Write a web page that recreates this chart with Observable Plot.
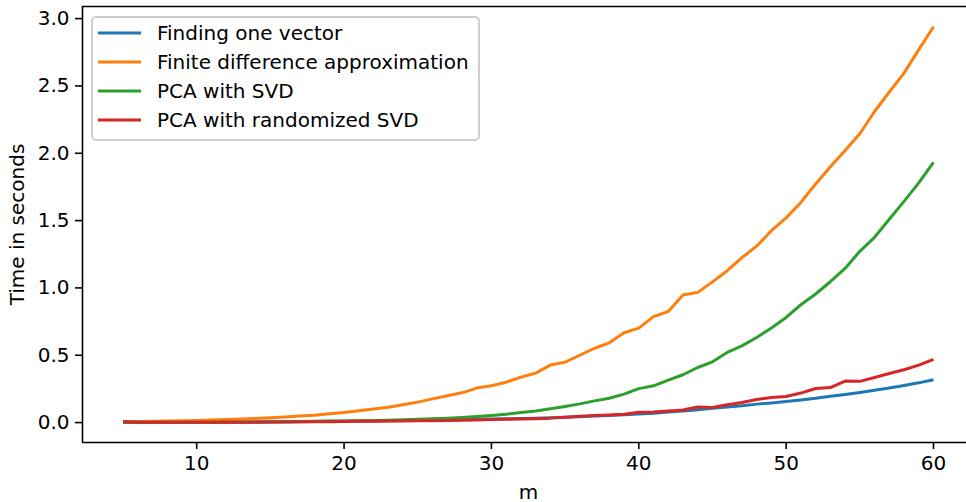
<!DOCTYPE html>
<html>
<head>
<meta charset="utf-8">
<script src="https://cdn.jsdelivr.net/npm/d3@7"></script>
<script src="https://cdn.jsdelivr.net/npm/@observablehq/plot@0.6"></script>
<style>
  html, body { margin: 0; padding: 0; background: #fff; }
  #chart { width: 966px; height: 502px; }
</style>
</head>
<body>
<div id="chart"></div>
<script>
const m = [5,6,7,8,9,10,11,12,13,14,15,16,17,18,19,20,21,22,23,24,25,26,27,28,29,30,31,32,33,34,35,36,37,38,39,40,41,42,43,44,45,46,47,48,49,50,51,52,53,54,55,56,57,58,59,60];

const findingOneVector = [
  0.001, 0.001, 0.001, 0.001, 0.002, 0.002, 0.003, 0.003, 0.004, 0.005,
  0.005, 0.006, 0.007, 0.008, 0.009, 0.010, 0.011, 0.012, 0.013, 0.015,
  0.016, 0.018, 0.020, 0.022, 0.024, 0.026, 0.028, 0.030, 0.032, 0.035,
  0.039, 0.043, 0.048, 0.053, 0.058, 0.063, 0.070, 0.078, 0.086, 0.096,
  0.106, 0.116, 0.125, 0.137, 0.146, 0.156, 0.168, 0.180, 0.195, 0.208,
  0.223, 0.240, 0.257, 0.275, 0.295, 0.318
];

const finiteDifference = [
  0.008, 0.008, 0.009, 0.011, 0.013, 0.016, 0.019, 0.022, 0.026, 0.031,
  0.036, 0.042, 0.048, 0.055, 0.065, 0.075, 0.087, 0.100, 0.114, 0.132,
  0.152, 0.176, 0.199, 0.221, 0.256, 0.273, 0.300, 0.337, 0.367, 0.427,
  0.449, 0.500, 0.552, 0.592, 0.667, 0.701, 0.787, 0.825, 0.948, 0.967,
  1.045, 1.128, 1.225, 1.310, 1.425, 1.520, 1.635, 1.772, 1.900, 2.020,
  2.145, 2.310, 2.455, 2.595, 2.770, 2.940
];

const pcaWithSvd = [
  0.002, 0.002, 0.002, 0.002, 0.003, 0.003, 0.003, 0.004, 0.004, 0.005,
  0.006, 0.007, 0.008, 0.009, 0.011, 0.012, 0.014, 0.016, 0.018, 0.021,
  0.024, 0.028, 0.033, 0.038, 0.045, 0.053, 0.062, 0.075, 0.086, 0.102,
  0.120, 0.139, 0.161, 0.181, 0.211, 0.252, 0.273, 0.315, 0.355, 0.409,
  0.451, 0.521, 0.570, 0.632, 0.702, 0.781, 0.875, 0.955, 1.046, 1.145,
  1.272, 1.376, 1.510, 1.643, 1.780, 1.932
];

const pcaRandomizedSvd = [
  0.008, 0.003, 0.003, 0.002, 0.002, 0.002, 0.002, 0.003, 0.003, 0.003,
  0.004, 0.005, 0.006, 0.007, 0.007, 0.008, 0.009, 0.010, 0.011, 0.012,
  0.013, 0.014, 0.016, 0.018, 0.020, 0.022, 0.024, 0.027, 0.029, 0.033,
  0.040, 0.047, 0.053, 0.057, 0.061, 0.076, 0.079, 0.086, 0.093, 0.115,
  0.112, 0.132, 0.149, 0.171, 0.186, 0.193, 0.219, 0.253, 0.260, 0.308,
  0.306, 0.335, 0.364, 0.392, 0.427, 0.469
];

const seriesNames = ["Finding one vector", "Finite difference approximation", "PCA with SVD", "PCA with randomized SVD"];
const seriesColors = ["#1f77b4", "#ff7f0e", "#2ca02c", "#d62728"];
const seriesValues = [findingOneVector, finiteDifference, pcaWithSvd, pcaRandomizedSvd];

const xTicks = [10, 20, 30, 40, 50, 60];
const yTicks = [0, 0.5, 1.0, 1.5, 2.0, 2.5, 3.0];
const xLabel = "m";
const yLabel = "Time in seconds";

const xDomain = [2.25, 62.24];
const yDomain = [-0.148, 3.09];

const rows = [];
seriesValues.forEach((vals, si) => {
  vals.forEach((v, i) => rows.push({m: m[i], t: v, series: seriesNames[si]}));
});

const FONT = "DejaVu Sans, sans-serif";

const chart = Plot.plot({
  width: 966,
  height: 502,
  marginLeft: 82,
  marginRight: 0,
  marginTop: 6,
  marginBottom: 60,
  style: {fontFamily: FONT, fontSize: "20px", color: "#000", background: "#fff", overflow: "visible"},
  x: {domain: xDomain, label: null},
  y: {domain: yDomain, label: null},
  color: {domain: seriesNames, range: seriesColors},
  marks: [
    Plot.axisX({ticks: xTicks, tickSize: 7, tickPadding: 6, strokeWidth: 1.6, label: null, tickFormat: d3.format("d")}),
    Plot.axisY({ticks: yTicks, tickSize: 7, tickPadding: 6, strokeWidth: 1.6, label: null, tickFormat: d3.format(".1f")}),
    Plot.line(rows, {x: "m", y: "t", z: "series", stroke: "series", strokeWidth: 3, strokeLinejoin: "round", strokeLinecap: "butt"}),
    Plot.ruleX([xDomain[0]], {stroke: "#000", strokeWidth: 1.6}),
    Plot.ruleY([yDomain[0]], {stroke: "#000", strokeWidth: 1.6}),
    Plot.ruleY([yDomain[1]], {stroke: "#000", strokeWidth: 1.6}),
    Plot.text([xLabel], {frameAnchor: "bottom", text: d => d, dx: 4, dy: 50, fontSize: 20, fill: "#000", lineAnchor: "middle"}),
    Plot.text([yLabel], {frameAnchor: "left", text: d => d, dx: -65, rotate: -90, fontSize: 20, fill: "#000", lineAnchor: "middle", textAnchor: "middle"})
  ]
});

document.getElementById("chart").appendChild(chart);

// Legend (matplotlib-style, inside the axes, upper left)
const svg = d3.select(chart);
const lg = svg.append("g")
  .attr("font-family", FONT)
  .attr("font-size", 20)
  .attr("text-anchor", "start");
lg.append("rect")
  .attr("x", 92).attr("y", 17).attr("width", 387).attr("height", 123)
  .attr("rx", 4).attr("ry", 4)
  .attr("fill", "#fff").attr("fill-opacity", 0.8)
  .attr("stroke", "#cccccc").attr("stroke-width", 2);
seriesNames.forEach((name, i) => {
  const y = 33 + i * 29;
  lg.append("line")
    .attr("x1", 98).attr("x2", 141).attr("y1", y).attr("y2", y)
    .attr("stroke", seriesColors[i]).attr("stroke-width", 3);
  lg.append("text")
    .attr("x", 157).attr("y", y).attr("dy", "0.36em")
    .attr("text-anchor", "start")
    .attr("fill", "#000")
    .text(name);
});
</script>
</body>
</html>
